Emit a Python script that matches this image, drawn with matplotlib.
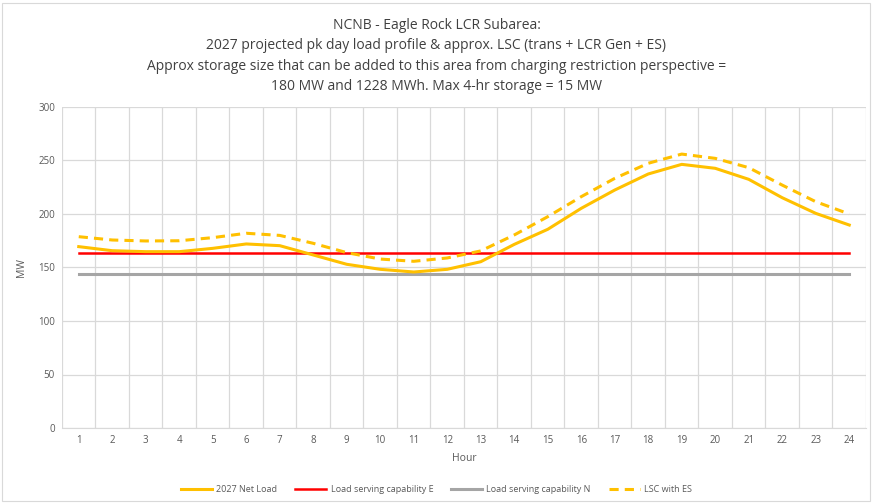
import matplotlib
matplotlib.use("Agg")
import matplotlib.pyplot as plt
from matplotlib.patches import Rectangle

hours = list(range(1, 25))
net_load = [169.5, 165.7, 164.8, 164.8, 167.9, 172.0, 170.4, 161.7, 153.0, 148.3, 145.8, 148.3,
            155.4, 171.6, 185.7, 205.3, 222.4, 237.4, 246.4, 242.7, 232.4, 215.2, 200.6, 189.7]
lsc_e = [164] * 24
lsc_n = [143.5] * 24
lsc_es = [178.8, 175.7, 174.8, 175.0, 177.9, 182.0, 180.0, 172.6, 163.9, 157.9, 155.8, 158.9,
          165.5, 180.4, 197.5, 216.2, 233.3, 247.4, 256.0, 252.0, 243.3, 227.0, 211.5, 200.0]

title = ("NCNB - Eagle Rock LCR Subarea:\n"
         "2027 projected pk day load profile & approx. LSC (trans + LCR Gen + ES)\n"
         "Approx storage size that can be added to this area from charging restriction perspective =\n"
         "180 MW and 1228 MWh. Max 4-hr storage = 15 MW")

plt.rcParams['font.family'] = ['Open Sans', 'DejaVu Sans']
fig = plt.figure(figsize=(8.73, 5.03), dpi=100)
ax = fig.add_axes([62/873, 1 - 428/503, 804/873, 321/503])

ax.plot(hours, net_load, color='#FFC000', lw=2.2, label='2027 Net Load', zorder=4)
ax.plot(hours, lsc_e, color='#FF0000', lw=1.8, label='Load serving capability E', zorder=3)
ax.plot(hours, lsc_n, color='#A5A5A5', lw=2.2, label='Load serving capability N', zorder=3)
ax.plot(hours, lsc_es, color='#FFC000', lw=2.2, ls=(0, (3, 2)), label='LSC with ES', zorder=4)

ax.set_xlim(0.5, 24.5)
ax.set_ylim(0, 300)
ax.set_yticks(range(0, 301, 50))
ax.set_xticks(hours)
ax.set_xticks([h + 0.5 for h in range(0, 25)], minor=True)
ax.grid(axis='y', which='major', color='#D9D9D9', lw=0.9)
ax.grid(axis='x', which='minor', color='#D9D9D9', lw=0.9)
ax.tick_params(axis='both', which='both', length=0, labelsize=7, colors='#595959', pad=5)
for s in ['top', 'right', 'left']:
    ax.spines[s].set_visible(False)
ax.spines['bottom'].set_color('#D9D9D9')
ax.set_xlabel('Hour', fontsize=7.5, color='#595959', labelpad=5)
ax.set_ylabel('MW', fontsize=7.5, color='#595959', labelpad=8)

fig.text(0.5, 1 - 56/503, title, ha='center', va='center', fontsize=10, color='#404040',
         linespacing=1.5)

leg = fig.legend(loc='center', bbox_to_anchor=(0.5, 1 - 490/503), ncol=4, frameon=False,
                 fontsize=6.5, handlelength=3.4, handletextpad=0.5, columnspacing=2.0,
                 labelcolor='#595959')

fig.patches.append(Rectangle((2/873, 2/503), 868/873, 498/503, transform=fig.transFigure,
                             fill=False, edgecolor='#D9D9D9', lw=0.8))

fig.savefig('out.png', dpi=100)
